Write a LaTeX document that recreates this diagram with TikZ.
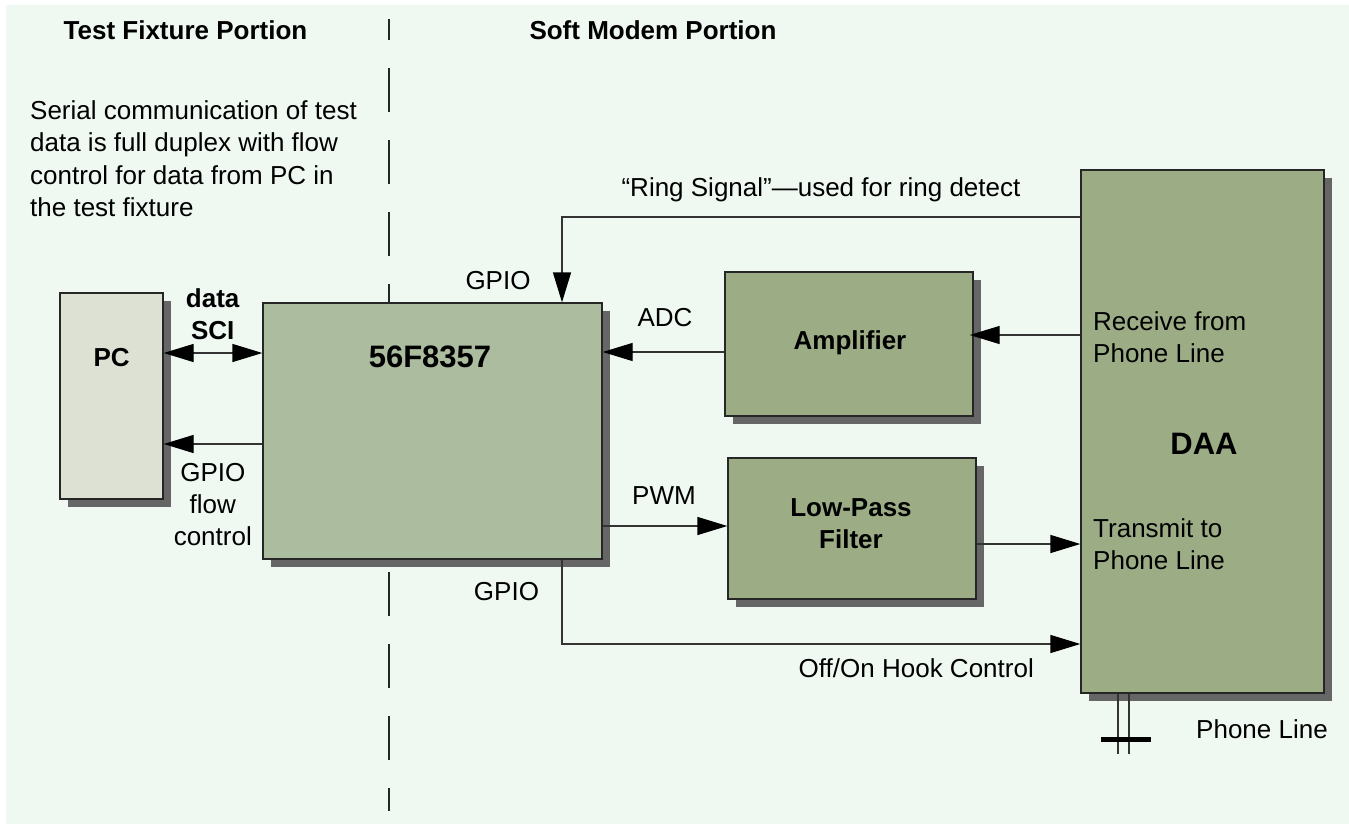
\documentclass[tikz,border=0pt]{standalone}
\usepackage{fontspec}
\setmainfont{Liberation Sans}
\usetikzlibrary{arrows.meta,shadows}
\definecolor{bgmint}{HTML}{EFF8F1}
\definecolor{boxgreen}{HTML}{9CAD86}
\definecolor{chipgreen}{HTML}{ABBD9E}
\definecolor{pcgrey}{HTML}{DDE1D3}
\definecolor{shadowgrey}{HTML}{666666}
\definecolor{linegrey}{HTML}{333333}
\tikzset{
  blk/.style={draw=black!85, line width=1.3pt, inner sep=0pt,
    drop shadow={shadow xshift=8pt, shadow yshift=-8pt, fill=shadowgrey, opacity=1}},
  txt/.style={font=\fontsize{26}{32}\selectfont, inner sep=0pt, anchor=base},
  btxt/.style={font=\fontsize{26}{32}\selectfont\bfseries, inner sep=0pt, anchor=base},
  bigtxt/.style={font=\fontsize{31}{36}\selectfont\bfseries, inner sep=0pt, anchor=base},
  conn/.style={draw=linegrey, line width=1.3pt},
  tip/.style={-{Triangle[length=30pt,width=18pt,color=black]}},
  dtip/.style={{Triangle[length=30pt,width=18pt,color=black]}-{Triangle[length=30pt,width=18pt,color=black]}}
}
\begin{document}
\begin{tikzpicture}[x=1pt,y=-1pt]
\useasboundingbox (0,0) rectangle (1349,824);
\fill[white] (0,0) rectangle (1349,824);
\fill[bgmint] (6,5) rectangle (1349,824);

% divider
\coordinate (divT) at (389,19);
\coordinate (divB) at (389,811);
\draw[black!85, line width=1.3pt, dash pattern=on 44pt off 28pt, dash phase=23pt] (divT) -- (divB);

% headers
\node[btxt] (h1) at (185.5,40) {Test Fixture Portion};
\node[btxt] (h2) at (653,40) {Soft Modem Portion};

% paragraph
\node[txt, anchor=base west] (p1) at (30,120) {Serial communication of test};
\node[txt, anchor=base west] (p2) at (30,152) {data is full duplex with flow};
\node[txt, anchor=base west] (p3) at (30,184) {control for data from PC in};
\node[txt, anchor=base west] (p4) at (30,216) {the test fixture};

% blocks
\node[blk, fill=pcgrey, minimum width=103pt, minimum height=206pt] (pc) at (111.5,396) {};
\node[blk, fill=chipgreen, minimum width=339pt, minimum height=256pt] (chip) at (432.5,431) {};
\node[blk, fill=boxgreen, minimum width=248pt, minimum height=144pt] (amp) at (849,344) {};
\node[blk, fill=boxgreen, minimum width=248pt, minimum height=141pt] (lpf) at (852,528.5) {};
\node[blk, fill=boxgreen, minimum width=243pt, minimum height=523pt] (daa) at (1202.5,431.5) {};

% block texts
\node[btxt] (pct) at (111.7,366) {PC};
\node[bigtxt] (chipt) at (430,367) {56F8357};
\node[btxt] (ampt) at (850,349) {Amplifier};
\node[btxt] (lpft1) at (851,516) {Low-Pass};
\node[btxt] (lpft2) at (851,548) {Filter};
\node[bigtxt] (daat) at (1204,454) {DAA};
\node[txt, anchor=base west] (rx1) at (1093,330) {Receive from};
\node[txt, anchor=base west] (rx2) at (1093,362) {Phone Line};
\node[txt, anchor=base west] (tx1) at (1093,537) {Transmit to};
\node[txt, anchor=base west] (tx2) at (1093,569) {Phone Line};

% helper coordinates
\coordinate (sciy) at (0,353);
\coordinate (flowy) at (0,444);
\coordinate (ringy) at (0,217);
\coordinate (gpx) at (562,0);
\coordinate (adcy) at (0,352);
\coordinate (rxy) at (0,335);
\coordinate (pwmy) at (0,526);
\coordinate (txy) at (0,544);
\coordinate (hooky) at (0,644);
\coordinate (plx1) at (1118,0);
\coordinate (plx2) at (1129,0);
\coordinate (plend) at (0,754);
\coordinate (barL) at (1101,739);
\coordinate (barR) at (1151,739);

% connectors
\draw[conn, dtip] (pc.east |- sciy) -- (chip.west |- sciy);
\draw[conn, tip] (chip.west |- flowy) -- (pc.east |- flowy);
\draw[conn, tip] (daa.west |- ringy) -| (chip.north -| gpx);
\draw[conn, tip] (amp.west |- adcy) -- (chip.east |- adcy);
\draw[conn, tip, shorten >=-4pt] (daa.west |- rxy) -- (amp.east |- rxy);
\draw[conn, tip] (chip.east |- pwmy) -- (lpf.west |- pwmy);
\draw[conn, tip] (lpf.east |- txy) -- (daa.west |- txy);
\draw[conn, tip] (chip.south -| gpx) |- (daa.west |- hooky);

% phone line
\draw[conn] (daa.south -| plx1) -- (plx1 |- plend);
\draw[conn] (daa.south -| plx2) -- (plx2 |- plend);
\draw[black, line width=5pt] (barL) -- (barR);

% connector labels
\node[btxt] (datal) at (212.7,307) {data};
\node[btxt] (scil) at (212.7,339) {SCI};
\node[txt] (fl1) at (212.8,481) {GPIO};
\node[txt] (fl2) at (212.8,513) {flow};
\node[txt] (fl3) at (212.8,545) {control};
\node[txt] (gpiot) at (498,289) {GPIO};
\node[txt] (gpiob) at (506.5,600) {GPIO};
\node[txt] (adcl) at (665,326) {ADC};
\node[txt] (pwml) at (664,504) {PWM};
\node[txt] (ringl) at (821,196) {“Ring Signal”—used for ring detect};
\node[txt, anchor=base east] (hookl) at (1034,677) {Off/On Hook Control};
\node[txt, anchor=base west] (phl) at (1196,738) {Phone Line};
\end{tikzpicture}
\end{document}
